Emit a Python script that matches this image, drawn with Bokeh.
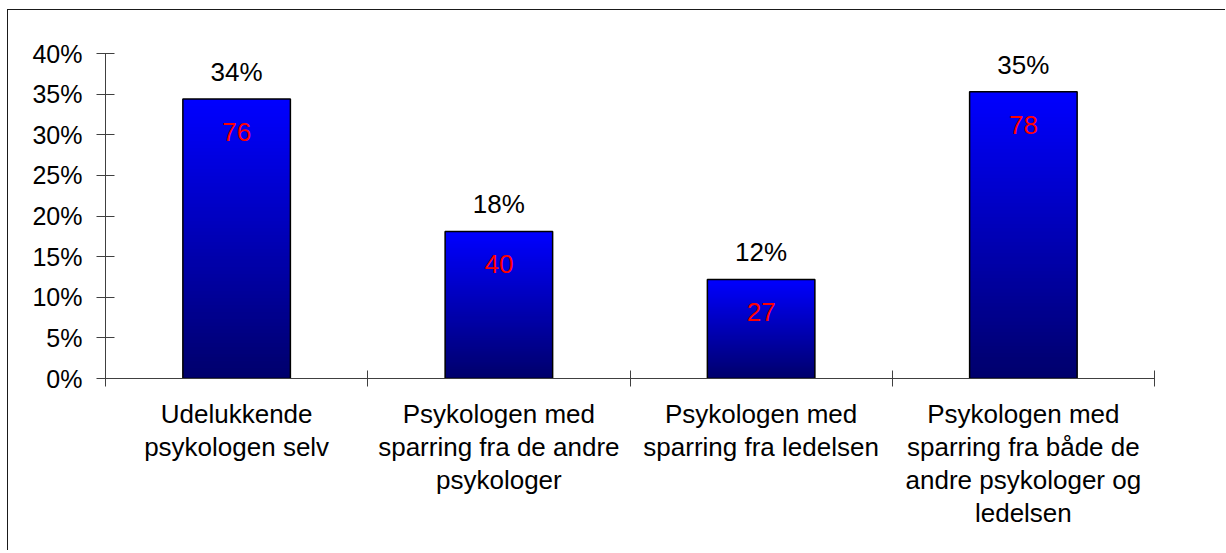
from bokeh.plotting import figure
from bokeh.models import Range1d, FixedTicker, NumeralTickFormatter, ColumnDataSource
from bokeh.core.properties import value
from bokeh.embed import file_html
from bokeh.resources import INLINE

# ---- data ----
categories = [
    "Udelukkende\npsykologen selv",
    "Psykologen med\nsparring fra de andre\npsykologer",
    "Psykologen med\nsparring fra ledelsen",
    "Psykologen med\nsparring fra både de\nandre psykologer og\nledelsen",
]
shares = [0.344, 0.181, 0.122, 0.353]
counts = [76, 40, 27, 78]
pct_labels = ["34%", "18%", "12%", "35%"]
y_ticks = [0.0, 0.05, 0.10, 0.15, 0.20, 0.25, 0.30, 0.35, 0.40]

FONT = "Liberation Sans"
AXIS_COLOR = "#404040"
BAR_WIDTH = 0.41
N_SLICES = 80
TOP_BLUE = 255
BOTTOM_BLUE = 108

centers = [i + 0.5 for i in range(len(categories))]
boundaries = [float(i) for i in range(len(categories) + 1)]

p = figure(
    frame_width=1049, frame_height=325,
    x_range=Range1d(0, len(categories)), y_range=Range1d(0, 0.40),
    output_backend="svg", toolbar_location=None,
    min_border_left=97, min_border_right=71,
    min_border_top=43, min_border_bottom=172,
)
p.margin = (9, 0, 0, 7)
p.styles = {"border-top": "1.5px solid #1a1a1a", "border-left": "1.5px solid #1a1a1a"}
p.xgrid.visible = False
p.ygrid.visible = False
p.outline_line_color = None
p.background_fill_color = "white"
p.border_fill_color = "white"

# y axis
ya = p.yaxis[0]
ya.ticker = FixedTicker(ticks=y_ticks)
ya.formatter = NumeralTickFormatter(format="0%")
ya.major_tick_in = 9
ya.major_tick_out = 9
ya.minor_tick_line_color = None
ya.axis_line_color = AXIS_COLOR
ya.major_tick_line_color = AXIS_COLOR
ya.major_label_text_font = FONT
ya.major_label_text_font_size = "25px"
ya.major_label_text_color = "black"
ya.major_label_standoff = 14

# x axis: labels at centres, ticks at category boundaries (minor ticks)
xa = p.xaxis[0]
xa.ticker = FixedTicker(ticks=centers, minor_ticks=boundaries)
xa.major_label_overrides = {c: lab for c, lab in zip(centers, categories)}
xa.major_tick_line_color = None
xa.major_tick_in = 0
xa.major_tick_out = 0
xa.minor_tick_in = 8
xa.minor_tick_out = 8
xa.minor_tick_line_color = AXIS_COLOR
xa.axis_line_color = AXIS_COLOR
xa.major_label_text_font = FONT
xa.major_label_text_font_size = "26px"
xa.major_label_text_color = "black"
xa.major_label_text_line_height = 1.1
xa.major_label_standoff = 12

# gradient bars built from overlapping horizontal slices (bottom -> top)
left, right, bottom, top, color = [], [], [], [], []
for c, v in zip(centers, shares):
    for k in range(N_SLICES):
        frac = k / (N_SLICES - 1)
        b = int(round(BOTTOM_BLUE + (TOP_BLUE - BOTTOM_BLUE) * frac))
        left.append(c - BAR_WIDTH / 2)
        right.append(c + BAR_WIDTH / 2)
        bottom.append(v * k / N_SLICES)
        top.append(v * min(k + 2, N_SLICES) / N_SLICES)
        color.append("#0000%02x" % b)
slices = ColumnDataSource(dict(left=left, right=right, bottom=bottom, top=top, color=color))
p.quad(left="left", right="right", bottom="bottom", top="top", source=slices,
       fill_color="color", line_color=None)

bars = ColumnDataSource(dict(x=centers, top=shares, pct=pct_labels,
                             cnt=[str(n) for n in counts]))
p.vbar(x="x", top="top", width=BAR_WIDTH, source=bars,
       fill_color=None, line_color="black", line_width=1.5)

p.text(x="x", y="top", text="pct", source=bars, text_align="center",
       text_baseline="alphabetic", y_offset=-27, text_font=value(FONT),
       text_font_size="26px", text_color="black")
p.text(x="x", y="top", text="cnt", source=bars, text_align="center",
       text_baseline="alphabetic", y_offset=33, text_font=value(FONT),
       text_font_size="26px", text_color="#ff0000")

open("out.html", "w").write(file_html(p, INLINE))
